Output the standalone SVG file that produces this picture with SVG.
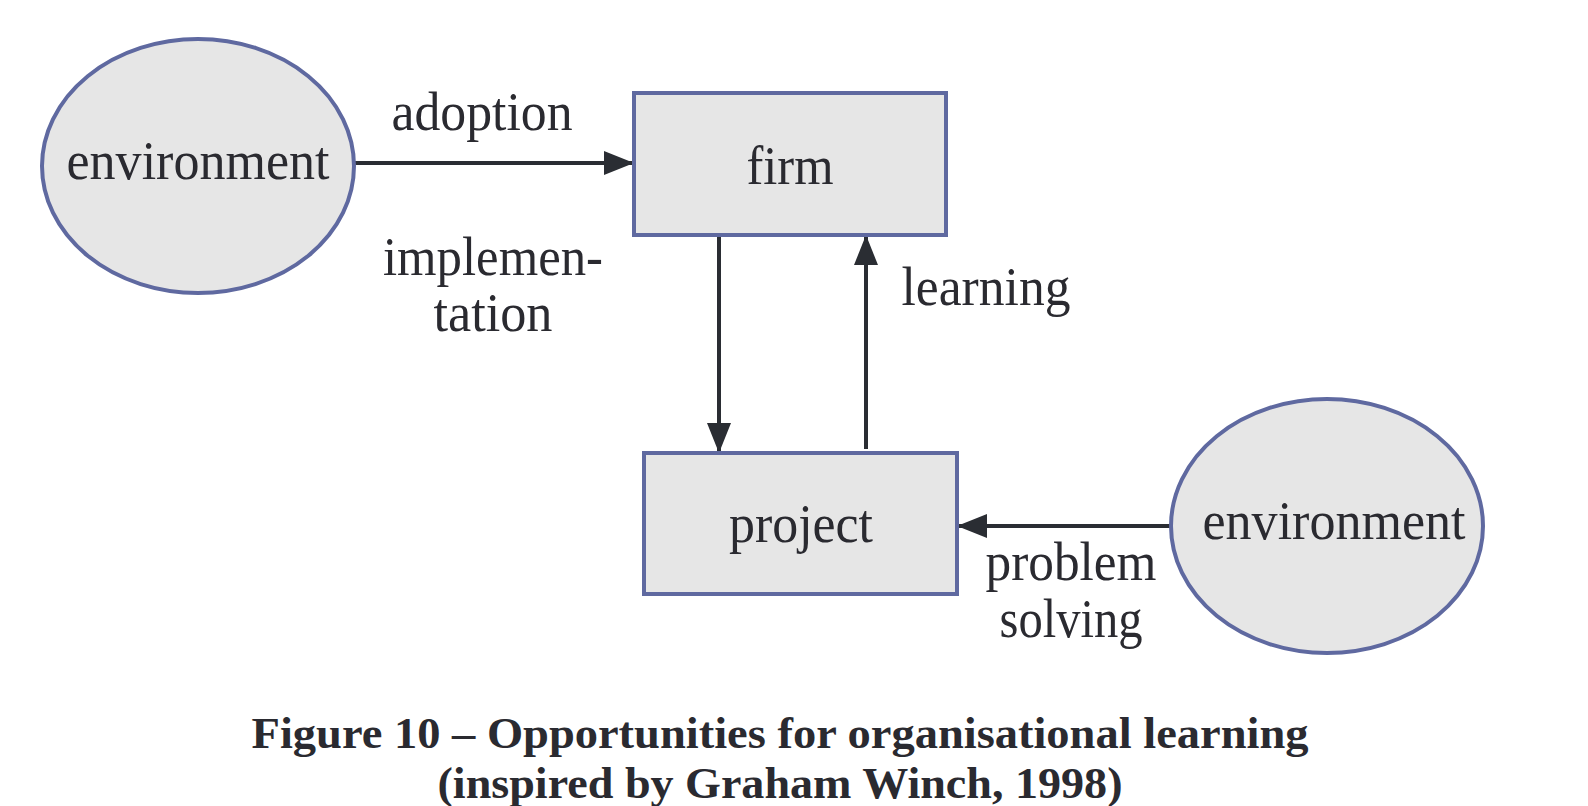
<svg xmlns="http://www.w3.org/2000/svg" width="1588" height="806" viewBox="0 0 1588 806">
<style>
.node{fill:#e6e6e6;stroke:#5f69a0;stroke-width:4}
.lbl{font-family:"Liberation Serif","DejaVu Serif",serif;font-size:55px;fill:#2a2a30;text-anchor:middle}
.cap{font-family:"Liberation Serif","DejaVu Serif",serif;font-size:45px;font-weight:bold;fill:#2a2a30;text-anchor:middle}
.edge{stroke:#2a2d33;stroke-width:4;fill:none}
</style>
<defs>
<marker id="arr" markerUnits="userSpaceOnUse" markerWidth="30" markerHeight="24" refX="29" refY="12" orient="auto">
<path d="M0,0 L30,12 L0,24 Z" fill="#2a2d33"/>
</marker>
</defs>
<rect width="1588" height="806" fill="#ffffff"/>
<g id="connectors">
<line class="edge" x1="354" y1="163" x2="633" y2="163" marker-end="url(#arr)"/>
<line class="edge" x1="719" y1="235" x2="719" y2="452" marker-end="url(#arr)"/>
<line class="edge" x1="866" y1="449" x2="866" y2="236" marker-end="url(#arr)"/>
<line class="edge" x1="1171" y1="526" x2="958" y2="526" marker-end="url(#arr)"/>
<text class="lbl" x="482" y="130" textLength="181" lengthAdjust="spacingAndGlyphs">adoption</text>
<text class="lbl" x="493" y="275" textLength="220" lengthAdjust="spacingAndGlyphs">implemen-</text>
<text class="lbl" x="493" y="331" textLength="119" lengthAdjust="spacingAndGlyphs">tation</text>
<text class="lbl" x="986" y="305" textLength="169" lengthAdjust="spacingAndGlyphs">learning</text>
<text class="lbl" x="1071" y="580" textLength="171" lengthAdjust="spacingAndGlyphs">problem</text>
<text class="lbl" x="1071" y="637" textLength="143" lengthAdjust="spacingAndGlyphs">solving</text>
</g>
<g id="env-left">
<ellipse class="node" cx="198" cy="166" rx="156" ry="127"/>
<text class="lbl" x="198" y="179" textLength="263" lengthAdjust="spacingAndGlyphs">environment</text>
</g>
<g id="firm">
<rect class="node" x="634" y="93" width="312" height="142"/>
<text class="lbl" x="790" y="184" textLength="87" lengthAdjust="spacingAndGlyphs">firm</text>
</g>
<g id="project">
<rect class="node" x="644" y="453" width="313" height="141"/>
<text class="lbl" x="801" y="542" textLength="144" lengthAdjust="spacingAndGlyphs">project</text>
</g>
<g id="env-right">
<ellipse class="node" cx="1327" cy="526" rx="156" ry="127"/>
<text class="lbl" x="1334" y="539" textLength="263" lengthAdjust="spacingAndGlyphs">environment</text>
</g>
<g id="caption">
<text class="cap" x="780" y="748" textLength="1057" lengthAdjust="spacingAndGlyphs">Figure 10 – Opportunities for organisational learning</text>
<text class="cap" x="780" y="798" textLength="685" lengthAdjust="spacingAndGlyphs">(inspired by Graham Winch, 1998)</text>
</g>
</svg>
